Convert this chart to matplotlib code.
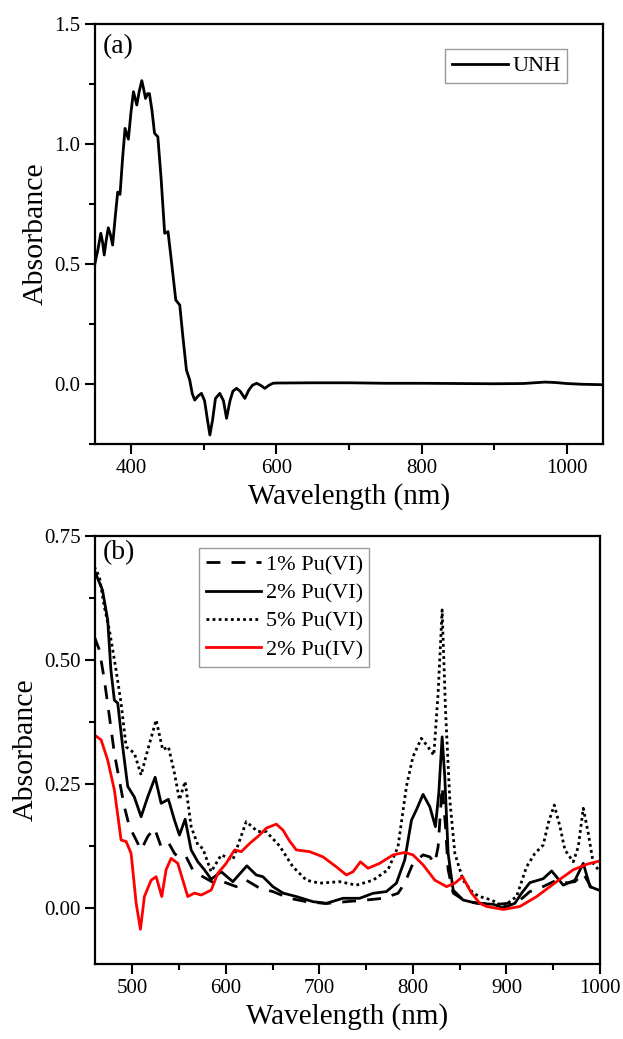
import numpy as np
import matplotlib
matplotlib.use('Agg')
import matplotlib.pyplot as plt

plt.rcParams['font.family'] = ['Liberation Serif', 'DejaVu Serif']
plt.rcParams['mathtext.fontset'] = 'stix'

# (a) UNH spectrum
wl_unh = [350, 354, 358, 360.5, 362.7, 365.5, 368.3, 371.5, 374.3, 378, 381.3, 384.5, 388, 391.4,
          396, 399.5, 403, 407.6, 411, 414.5, 417, 419.6, 422.5, 425, 428.5, 432, 436.6, 441,
          446, 450.6, 455, 461.3, 466.8, 471, 476, 480.5, 484, 487.4, 492, 496.7, 501, 505, 508.3,
          512, 516, 522, 527, 531.3, 536, 540, 545, 550, 556.5, 562, 567, 572.7, 578, 584, 590,
          595, 600, 650, 700, 750, 800, 850, 900, 940, 955, 970, 985, 1000, 1020, 1050]
abs_unh = [0.503, 0.56, 0.628, 0.59, 0.5375, 0.60, 0.651, 0.62, 0.579, 0.70, 0.80, 0.79, 0.94, 1.065,
           1.02, 1.13, 1.218, 1.1625, 1.22, 1.264, 1.23, 1.19, 1.21, 1.21, 1.14, 1.045, 1.03, 0.86,
           0.628, 0.635, 0.52, 0.35, 0.329, 0.20, 0.058, 0.017, -0.04, -0.067, -0.05, -0.039, -0.07, -0.15, -0.2125,
           -0.15, -0.06, -0.039, -0.07, -0.143, -0.07, -0.03, -0.018, -0.03, -0.06, -0.025, -0.005, 0.003, -0.005, -0.018, -0.005,
           0.003, 0.004, 0.005, 0.005, 0.003, 0.003, 0.002, 0.001, 0.002, 0.005, 0.008, 0.006, 0.002, -0.001, -0.003]

# (b) Pu spectra
wl_2vi = [459.3, 468, 473.6, 477, 480.7, 484.3, 489.6, 495, 502, 509.3, 516.4, 524.3, 530.7, 538.5,
          545, 550.3, 556.4, 562.8, 570, 577, 584.2, 595, 607.4, 622.4, 632.4, 639.5, 650.2, 661,
          675.3, 693, 707.4, 725.2, 743, 757.3, 771.6, 782.3, 791.2, 798.4, 803.7, 810.8, 818, 824,
          827.6, 831.2, 834, 837.6, 843, 853.6, 868, 885.8, 896.5, 909, 916.2, 925, 934, 939.3,
          948.3, 960.7, 973.2, 982.1, 989.3, 1000]
abs_2vi = [0.681, 0.641, 0.58, 0.48, 0.419, 0.413, 0.325, 0.245, 0.224, 0.184, 0.224, 0.2635, 0.211, 0.219,
           0.177, 0.147, 0.179, 0.117, 0.093, 0.077, 0.058, 0.073, 0.053, 0.085, 0.0665, 0.063, 0.043, 0.030,
           0.023, 0.0127, 0.0094, 0.0195, 0.0195, 0.0296, 0.033, 0.050, 0.097, 0.177, 0.198, 0.229, 0.204, 0.164,
           0.231, 0.345, 0.265, 0.110, 0.036, 0.016, 0.0094, 0.0074, 0.0, 0.0094, 0.030, 0.051, 0.056, 0.059,
           0.0746, 0.046, 0.056, 0.090, 0.043, 0.035]

wl_1vi = [459.3, 464.7, 470, 475.4, 480.7, 486, 491.4, 496.8, 504, 509.3, 516.4, 523.6, 530.7, 538.5,
          545, 550.3, 557.5, 564.5, 575.3, 587.8, 596.7, 611, 621.7, 636, 650.2, 668, 686, 707,
          728.8, 750.2, 768, 784, 791.2, 800, 810.8, 818, 823.4, 826.9, 831.2, 834.8, 837.6, 843,
          857, 885.8, 900, 912.6, 925, 935.7, 953.6, 960.7, 973.2, 982.1, 991, 1000]
abs_1vi = [0.547, 0.52, 0.46, 0.386, 0.312, 0.258, 0.204, 0.164, 0.137, 0.117, 0.144, 0.161, 0.1235, 0.132,
           0.110, 0.100, 0.103, 0.077, 0.063, 0.050, 0.053, 0.043, 0.056, 0.040, 0.033, 0.0195, 0.0127, 0.009,
           0.0127, 0.016, 0.0195, 0.0296, 0.050, 0.090, 0.107, 0.103, 0.090, 0.1235, 0.245, 0.164, 0.077, 0.030,
           0.0127, 0.0067, 0.009, 0.0127, 0.033, 0.040, 0.056, 0.050, 0.053, 0.070, 0.040, 0.033]

wl_5vi = [459.3, 464.7, 470, 475.4, 482.5, 487.9, 493.3, 502.1, 509.3, 516.4, 525.4, 532.4, 538.5, 545,
          550.3, 556.4, 562.8, 570, 575.3, 584.2, 595, 607.4, 621.7, 634, 643, 657.4, 671.6, 686,
          700.2, 721.6, 739.4, 757.3, 773.3, 784, 793, 800, 809, 816, 822.3, 826.9, 831.2, 834.8,
          839.4, 844.8, 853.6, 864.3, 871.5, 884, 896.5, 910.8, 921.5, 930.4, 939.3, 944.7, 951.1,
          957.2, 962.5, 971.4, 976.8, 982.1, 987.5, 992.8, 1000]
abs_5vi = [0.688, 0.668, 0.607, 0.56, 0.48, 0.413, 0.325, 0.312, 0.268, 0.319, 0.379, 0.319, 0.325, 0.2715,
           0.218, 0.255, 0.164, 0.127, 0.120, 0.073, 0.107, 0.097, 0.174, 0.154, 0.154, 0.125, 0.083, 0.056,
           0.050, 0.053, 0.046, 0.056, 0.077, 0.1235, 0.245, 0.305, 0.342, 0.325, 0.308, 0.433, 0.601, 0.399,
           0.218, 0.110, 0.056, 0.030, 0.023, 0.016, 0.003, 0.023, 0.083, 0.110, 0.127, 0.171, 0.2075,
           0.164, 0.117, 0.093, 0.1235, 0.201, 0.150, 0.090, 0.073]

wl_4iv = [459.3, 466.5, 473.6, 480.7, 487.9, 493.3, 498.6, 504, 508.6, 512.8, 520, 525.4, 531.4, 536,
          541.4, 548.5, 553.9, 559.2, 566.4, 573.5, 584.2, 591.4, 600.3, 609.2, 616.4, 625.3, 636, 643.2,
          653.9, 661, 668, 675.3, 689.5, 703.8, 718, 728.8, 735.9, 743.8, 752, 764.4, 778.7, 791.2,
          800, 810.8, 823.4, 835.9, 844.8, 853, 862.6, 871.5, 878.6, 896.5, 914.4, 932.3, 953.6,
          971.4, 985.8, 1000]
abs_4iv = [0.349, 0.339, 0.298, 0.238, 0.137, 0.134, 0.110, 0.0094, -0.043, 0.023, 0.056, 0.063, 0.023, 0.077,
           0.100, 0.090, 0.056, 0.023, 0.030, 0.026, 0.036, 0.070, 0.090, 0.117, 0.1135, 0.130, 0.147, 0.161,
           0.169, 0.157, 0.135, 0.117, 0.1135, 0.103, 0.083, 0.0665, 0.073, 0.093, 0.080, 0.090, 0.107, 0.112,
           0.107, 0.087, 0.056, 0.043, 0.050, 0.063, 0.030, 0.0094, 0.003, -0.003, 0.003, 0.023, 0.053,
           0.077, 0.088, 0.095]

fig = plt.figure(figsize=(6.23, 10.39), dpi=100)
ax1 = fig.add_axes([95/623, 595/1039, 508/623, 420/1039])
ax2 = fig.add_axes([95/623, 75/1039, 505/623, 428/1039])

lw = 2.0
ax1.plot(wl_unh, abs_unh, color='black', lw=lw, label='UNH')
ax1.set_xlim(350, 1050)
ax1.set_ylim(-0.25, 1.5)
ax1.set_xticks([400, 600, 800, 1000])
ax1.set_xticks([500, 700, 900], minor=True)
ax1.set_yticks([0.0, 0.5, 1.0, 1.5])
ax1.set_yticks([-0.25, 0.25, 0.75, 1.25], minor=True)
ax1.set_yticklabels(['0.0', '0.5', '1.0', '1.5'])
ax1.set_xlabel('Wavelength (nm)', fontsize=21)
ax1.set_ylabel('Absorbance', fontsize=21.5)
ax1.text(0.015, 0.975, '(a)', transform=ax1.transAxes, fontsize=20, va='top', ha='left')
leg1 = ax1.legend(loc='upper right', bbox_to_anchor=(0.929, 0.94), fontsize=16, fancybox=False,
                  edgecolor='gray', handlelength=2.5, handletextpad=0.2, borderpad=0.3,
                  borderaxespad=0)
leg1.get_frame().set_linewidth(1.0)

ax2.plot(wl_1vi, abs_1vi, color='black', lw=lw, dashes=(5, 4), label='1% Pu(VI)')
ax2.plot(wl_2vi, abs_2vi, color='black', lw=lw, label='2% Pu(VI)')
ax2.plot(wl_5vi, abs_5vi, color='black', lw=lw, dashes=(1, 1.2), label='5% Pu(VI)')
ax2.plot(wl_4iv, abs_4iv, color='red', lw=lw, label='2% Pu(IV)')
ax2.set_xlim(460, 1000)
ax2.set_ylim(-0.113, 0.75)
ax2.set_xticks([500, 600, 700, 800, 900, 1000])
ax2.set_xticks([550, 650, 750, 850, 950], minor=True)
ax2.set_yticks([0.0, 0.25, 0.5, 0.75])
ax2.set_yticks([0.125, 0.375, 0.625], minor=True)
ax2.set_yticklabels(['0.00', '0.25', '0.50', '0.75'])
ax2.set_xlabel('Wavelength (nm)', fontsize=21)
ax2.set_ylabel('Absorbance', fontsize=21.5)
ax2.text(0.015, 0.99, '(b)', transform=ax2.transAxes, fontsize=20, va='top', ha='left')
leg2 = ax2.legend(loc='upper left', bbox_to_anchor=(0.206, 0.972), fontsize=16, fancybox=False,
                  edgecolor='gray', handlelength=2.5, handletextpad=0.2, borderpad=0.3,
                  labelspacing=0.35, borderaxespad=0)
leg2.get_frame().set_linewidth(1.0)

for ax in (ax1, ax2):
    for s in ax.spines.values():
        s.set_linewidth(1.6)
    ax.tick_params(which='major', direction='out', length=7, width=1.5, labelsize=15)
    ax.tick_params(which='minor', direction='out', length=4, width=1.5)

fig.savefig('out.png', dpi=100)
